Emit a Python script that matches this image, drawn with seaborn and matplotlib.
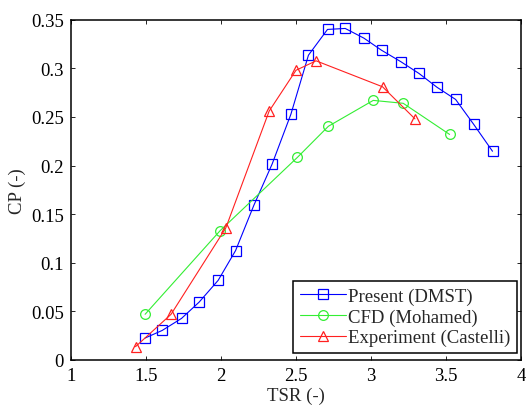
import numpy as np
import pandas as pd
import matplotlib
matplotlib.use("Agg")
import matplotlib.pyplot as plt
import seaborn as sns

# Data
dmst_tsr = [1.494, 1.608, 1.737, 1.854, 1.981, 2.097, 2.219, 2.341, 2.466, 2.583,
            2.710, 2.828, 2.953, 3.070, 3.197, 3.320, 3.440, 3.564, 3.684, 3.810]
dmst_cp = [0.0226, 0.0304, 0.0428, 0.0595, 0.0819, 0.1125, 0.1591, 0.2016, 0.2528, 0.3135,
           0.3400, 0.3410, 0.3310, 0.3186, 0.3070, 0.2947, 0.2805, 0.2680, 0.2425, 0.2147]

cfd_tsr = [1.494, 1.994, 2.510, 2.716, 3.015, 3.215, 3.524]
cfd_cp = [0.0470, 0.1330, 0.2085, 0.2404, 0.2670, 0.2640, 0.2320]

exp_tsr = [1.430, 1.667, 2.032, 2.321, 2.500, 2.634, 3.077, 3.293]
exp_cp = [0.0137, 0.0470, 0.1358, 0.2560, 0.2980, 0.3077, 0.2810, 0.2480]

labels = ["Present (DMST)", "CFD (Mohamed)", "Experiment (Castelli)"]
xticks = [1, 1.5, 2, 2.5, 3, 3.5, 4]
xticklabels = ["1", "1.5", "2", "2.5", "3", "3.5", "4"]
yticks = [0, 0.05, 0.1, 0.15, 0.2, 0.25, 0.3, 0.35]
yticklabels = ["0", "0.05", "0.1", "0.15", "0.2", "0.25", "0.3", "0.35"]

sns.set_style("ticks")
plt.rcParams["font.family"] = ["Liberation Serif", "DejaVu Serif"]

FS = 13.5

fig = plt.figure(figsize=(5.26, 4.06), dpi=100)
ax = fig.add_axes([71 / 526, 1 - 361 / 406, 450 / 526, 340.3 / 406])

series = [
    (dmst_tsr, dmst_cp, labels[0], "#0000ff", "s"),
    (cfd_tsr, cfd_cp, labels[1], "#33ee33", "o"),
    (exp_tsr, exp_cp, labels[2], "#ff2020", "^"),
]
for xs, ys, lab, col, mk in series:
    df = pd.DataFrame({"TSR": xs, "CP": ys})
    sns.lineplot(data=df, x="TSR", y="CP", ax=ax, color=col, label=lab,
                 marker=mk, markersize=7, markerfacecolor="none",
                 markeredgecolor=col, markeredgewidth=0.9, linewidth=0.8,
                 sort=False)

ax.set_xlim(1, 4)
ax.set_ylim(0, 0.35)
ax.set_xticks(xticks)
ax.set_xticklabels(xticklabels)
ax.set_yticks(yticks)
ax.set_yticklabels(yticklabels)
ax.tick_params(direction="in", top=True, right=True, length=3, width=0.6,
               labelsize=FS, colors="black", pad=5)
for s in ax.spines.values():
    s.set_visible(True)
    s.set_linewidth(1.1)
    s.set_color("black")
ax.set_xlabel("TSR (-)", fontsize=FS, labelpad=2)
ax.set_ylabel("CP (-)", fontsize=FS, labelpad=4)

leg = ax.legend(loc="lower right", bbox_to_anchor=(0.992, 0.0206), borderaxespad=0,
                fontsize=FS, frameon=True, fancybox=False, edgecolor="black",
                framealpha=1, handlelength=2.5, handletextpad=0.1,
                borderpad=0.36, labelspacing=0.18)
leg.get_frame().set_linewidth(1.1)

fig.savefig("out.png", dpi=100)
